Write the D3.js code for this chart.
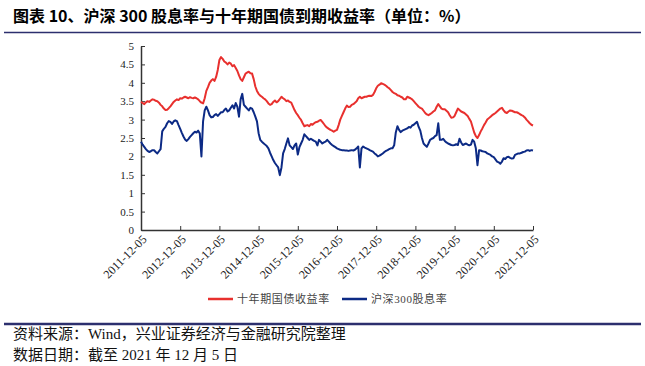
<!DOCTYPE html>
<html>
<head>
<meta charset="utf-8">
<script src="https://cdn.jsdelivr.net/npm/d3@7"></script>
<style>
  body { margin: 0; background: #fff; }
  svg text { font-family: "Liberation Serif", "Noto Sans CJK SC", serif; }
</style>
</head>
<body>
<div id="chart"></div>
<script>
// x-axis tick labels (one per year)
const tickLabels = ["2011-12-05", "2012-12-05", "2013-12-05", "2014-12-05", "2015-12-05",
  "2016-12-05", "2017-12-05", "2018-12-05", "2019-12-05", "2020-12-05", "2021-12-05"];
const yTicks = [0, 0.5, 1, 1.5, 2, 2.5, 3, 3.5, 4, 4.5, 5];
const seriesNames = ["十年期国债收益率", "沪深300股息率"];

// half-month samples, Dec 2011 .. Dec 2021
const bondYield = [
  3.48, 3.45, 3.42, 3.47, 3.50, 3.48, 3.52, 3.55, 3.54, 3.51, 3.50, 3.46, 3.40, 3.36, 3.30, 3.26,
  3.27, 3.31, 3.36, 3.42, 3.48, 3.52, 3.55, 3.53, 3.58, 3.57, 3.60, 3.62, 3.60, 3.58, 3.61, 3.59,
  3.58, 3.60, 3.58, 3.55, 3.50, 3.46, 3.44, 3.58, 3.78, 3.88, 4.00, 4.06, 4.10, 4.05, 4.16, 4.35,
  4.62, 4.70, 4.65, 4.58, 4.55, 4.50, 4.55, 4.52, 4.45, 4.48, 4.40, 4.32, 4.20, 4.10, 4.05, 4.15,
  4.25, 4.28, 4.30, 4.26, 4.25, 4.10, 3.90, 3.78, 3.70, 3.65, 3.62, 3.58, 3.55, 3.50, 3.44, 3.40,
  3.42, 3.48, 3.52, 3.47, 3.50, 3.56, 3.62, 3.58, 3.55, 3.50, 3.52, 3.48, 3.46, 3.36, 3.26, 3.18,
  3.12, 3.05, 2.99, 2.90, 2.82, 2.84, 2.85, 2.82, 2.88, 2.86, 2.90, 2.93, 2.94, 2.97, 2.99, 2.94,
  2.88, 2.82, 2.78, 2.75, 2.72, 2.70, 2.67, 2.70, 2.72, 2.85, 3.00, 3.10, 3.20, 3.30, 3.38, 3.34,
  3.35, 3.40, 3.42, 3.46, 3.50, 3.58, 3.62, 3.58, 3.60, 3.62, 3.62, 3.64, 3.65, 3.64, 3.67, 3.75,
  3.85, 3.92, 3.95, 3.99, 3.97, 3.95, 3.92, 3.88, 3.85, 3.80, 3.75, 3.72, 3.70, 3.66, 3.65, 3.62,
  3.60, 3.55, 3.55, 3.62, 3.60, 3.58, 3.55, 3.50, 3.45, 3.40, 3.35, 3.32, 3.30, 3.24, 3.18, 3.14,
  3.12, 3.15, 3.18, 3.22, 3.25, 3.35, 3.42, 3.36, 3.30, 3.28, 3.28, 3.24, 3.20, 3.12, 3.05, 3.06,
  3.10, 3.20, 3.30, 3.26, 3.22, 3.20, 3.18, 3.14, 3.10, 3.02, 2.95, 2.80, 2.65, 2.55, 2.50, 2.58,
  2.68, 2.76, 2.85, 2.92, 3.00, 3.04, 3.08, 3.12, 3.15, 3.18, 3.22, 3.26, 3.30, 3.32, 3.25, 3.20,
  3.18, 3.22, 3.25, 3.24, 3.22, 3.20, 3.20, 3.18, 3.15, 3.12, 3.10, 3.06, 3.00, 2.95, 2.90, 2.86,
  2.84
];
const dividendYield = [
  2.40, 2.32, 2.26, 2.20, 2.15, 2.12, 2.14, 2.17, 2.17, 2.12, 2.08, 2.14, 2.20, 2.68, 2.75, 2.80,
  2.90, 2.96, 2.94, 2.88, 2.95, 2.98, 2.96, 2.85, 2.75, 2.64, 2.54, 2.46, 2.42, 2.47, 2.53, 2.58,
  2.63, 2.67, 2.65, 2.70, 2.62, 2.00, 2.95, 3.25, 3.35, 3.25, 3.12, 3.06, 3.07, 3.12, 3.15, 3.10,
  3.15, 3.20, 3.20, 3.26, 3.30, 3.22, 3.25, 3.32, 3.39, 3.30, 3.45, 3.35, 3.08, 3.55, 3.70, 3.40,
  3.35, 3.30, 3.25, 3.32, 3.30, 3.20, 3.08, 2.95, 2.63, 2.45, 2.40, 2.36, 2.32, 2.28, 2.22, 2.10,
  2.00, 1.90, 1.82, 1.76, 1.70, 1.49, 1.70, 2.08, 2.20, 2.35, 2.49, 2.30, 2.25, 2.20, 2.30, 2.35,
  2.05, 2.25, 2.35, 2.45, 2.60, 2.55, 2.50, 2.45, 2.48, 2.45, 2.42, 2.40, 2.30, 2.45, 2.40, 2.35,
  2.38, 2.40, 2.45, 2.40, 2.35, 2.31, 2.28, 2.25, 2.22, 2.20, 2.18, 2.17, 2.17, 2.16, 2.16, 2.15,
  2.16, 2.17, 2.16, 2.18, 2.22, 2.27, 1.70, 2.22, 2.27, 2.24, 2.22, 2.20, 2.17, 2.15, 2.13, 2.08,
  2.05, 2.00, 2.02, 2.05, 2.08, 2.12, 2.15, 2.17, 2.20, 2.22, 2.22, 2.30, 2.65, 2.82, 2.72, 2.66,
  2.70, 2.72, 2.74, 2.76, 2.80, 2.78, 2.84, 2.86, 2.90, 2.94, 2.80, 2.70, 2.50, 2.35, 2.30, 2.26,
  2.35, 2.45, 2.48, 2.50, 2.55, 2.58, 2.90, 2.45, 2.45, 2.48, 2.42, 2.38, 2.35, 2.33, 2.31, 2.30,
  2.31, 2.33, 2.31, 2.48, 2.38, 2.31, 2.33, 2.35, 2.32, 2.30, 2.32, 2.45, 2.40, 2.22, 1.76, 2.17,
  2.16, 2.14, 2.13, 2.12, 2.08, 2.06, 2.04, 2.00, 1.98, 1.92, 1.86, 1.84, 1.80, 1.86, 1.95, 1.93,
  1.98, 1.99, 1.96, 1.94, 1.95, 2.04, 2.06, 2.08, 2.08, 2.10, 2.12, 2.13, 2.16, 2.17, 2.15, 2.17,
  2.16
];

const colors = ["#e8302e", "#0c2a85"];
const navy = "#2c2f6e";

const W = 645, H = 366;
const svg = d3.select("#chart").append("svg")
    .attr("width", W)
    .attr("height", H);

// title and rules
svg.append("text")
    .attr("x", 13)
    .attr("y", 22)
    .style("font-family", "'Noto Sans CJK SC', sans-serif")
    .style("font-size", "16px")
    .style("font-weight", "bold")
    .text("图表 10、沪深 300 股息率与十年期国债到期收益率（单位：%）");

svg.append("line")
    .attr("x1", 4).attr("x2", 641)
    .attr("y1", 32.5).attr("y2", 32.5)
    .attr("stroke", navy).attr("stroke-width", 1.5);

svg.append("line")
    .attr("x1", 4).attr("x2", 641)
    .attr("y1", 324).attr("y2", 324)
    .attr("stroke", navy).attr("stroke-width", 2.5);

const x = d3.scaleLinear().domain([0, 240]).range([141, 533]);
const y = d3.scaleLinear().domain([0, 5]).range([230, 46]);

// axes
const xAxis = svg.append("g")
    .attr("transform", "translate(0,230)")
    .call(d3.axisBottom(x)
        .tickValues(tickLabels.map((d, i) => i * 24))
        .tickFormat((d, i) => tickLabels[i])
        .tickSizeInner(-4)
        .tickSizeOuter(0));
xAxis.select(".domain").attr("stroke", "#333").attr("stroke-width", 1.5);
xAxis.selectAll(".tick line").attr("stroke", "#333");
xAxis.selectAll("text")
    .style("font-size", "12px")
    .attr("fill", "#222")
    .attr("text-anchor", "end")
    .attr("x", 0)
    .attr("y", 0)
    .attr("dy", "0.35em")
    .attr("transform", "translate(3,7) rotate(-45)");

const yAxis = svg.append("g")
    .attr("transform", "translate(141,0)")
    .call(d3.axisLeft(y)
        .tickValues(yTicks)
        .tickFormat(d3.format("~g"))
        .tickSizeInner(-4)
        .tickSizeOuter(0)
        .tickPadding(7));
yAxis.select(".domain").attr("stroke", "#333").attr("stroke-width", 1.5);
yAxis.selectAll(".tick line").attr("stroke", "#333");
yAxis.selectAll("text").style("font-size", "11px").attr("fill", "#222");

// lines
const line = d3.line()
    .x((d, i) => x(i))
    .y(d => y(d));

[bondYield, dividendYield].forEach((s, k) => {
    svg.append("path")
        .datum(s)
        .attr("fill", "none")
        .attr("stroke", colors[k])
        .attr("stroke-width", 2)
        .attr("stroke-linejoin", "round")
        .attr("d", line);
});

// legend
const legendX = [208, 342];
seriesNames.forEach((name, k) => {
    const g = svg.append("g").attr("transform", `translate(${legendX[k]},299)`);
    g.append("line")
        .attr("x1", 0).attr("x2", 25)
        .attr("stroke", colors[k]).attr("stroke-width", 2.5);
    g.append("text")
        .attr("x", 29)
        .attr("dy", "0.35em")
        .style("font-size", "11px")
        .style("letter-spacing", "0.6px")
        .attr("fill", "#444")
        .text(name);
});

// footer
svg.append("text")
    .attr("x", 13).attr("y", 339)
    .style("font-size", "15px")
    .attr("fill", "#111")
    .text("资料来源：Wind，兴业证券经济与金融研究院整理");
svg.append("text")
    .attr("x", 13).attr("y", 360)
    .style("font-size", "15px")
    .attr("fill", "#111")
    .text("数据日期：截至 2021 年 12 月 5 日");
</script>
</body>
</html>
